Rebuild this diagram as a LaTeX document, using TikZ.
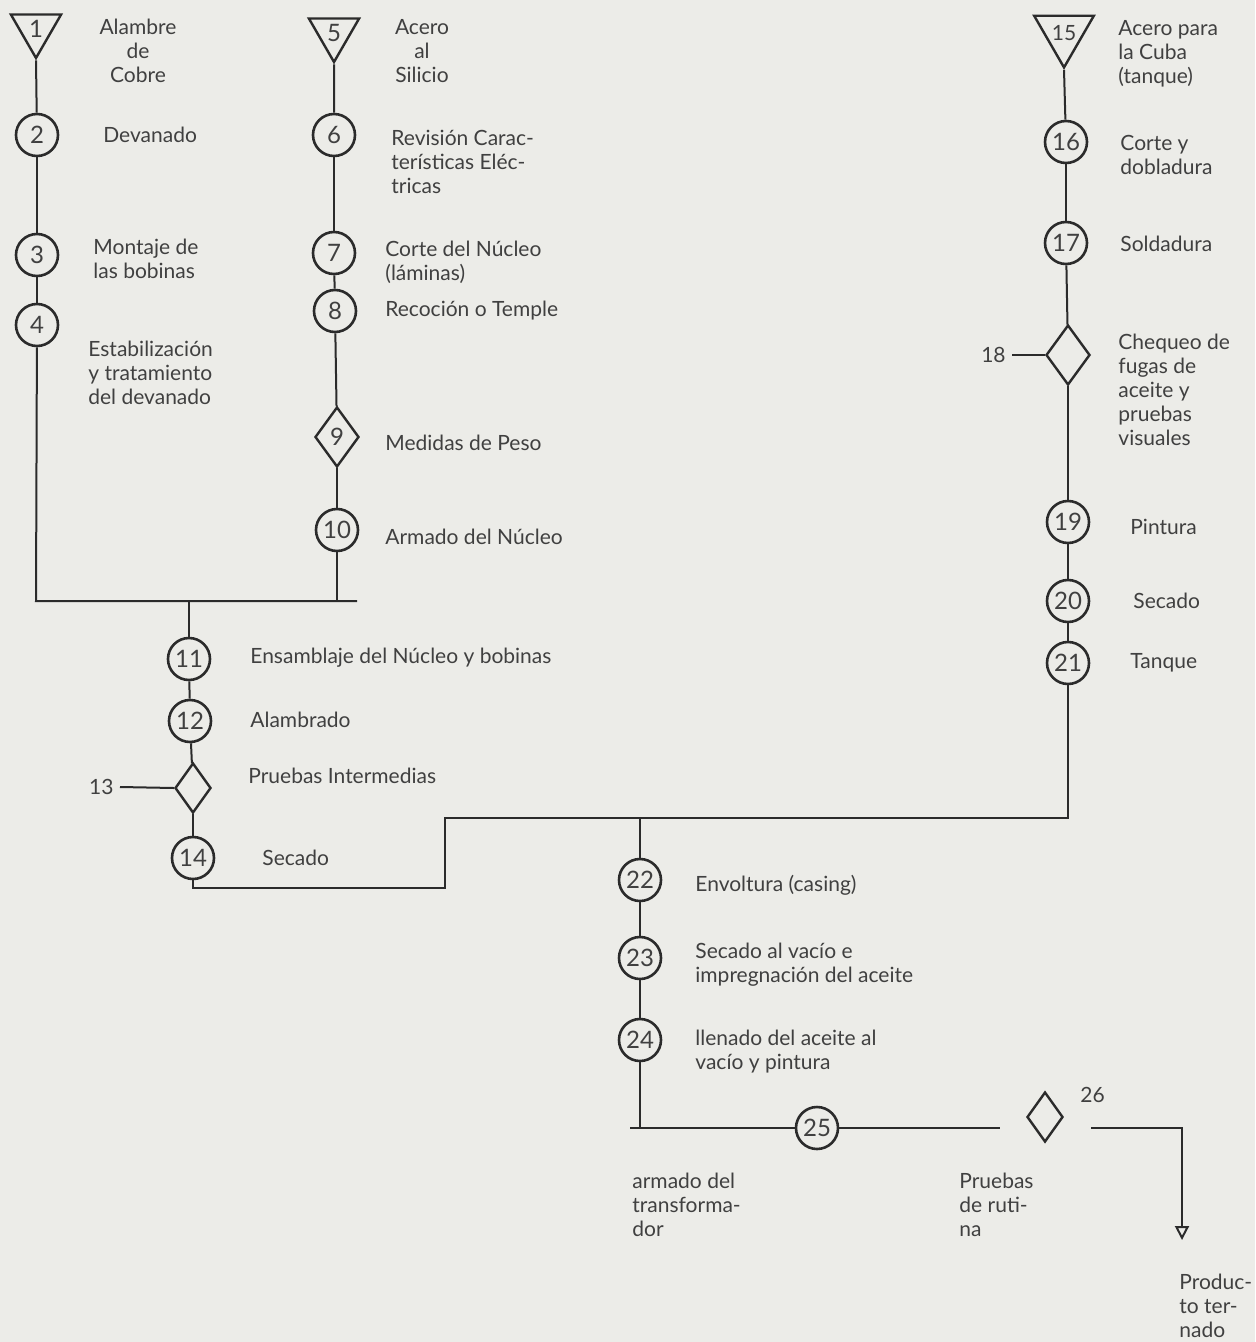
\documentclass[tikz,border=0pt]{standalone}
\usepackage{fontspec}
\setmainfont{Lato}
\usetikzlibrary{shapes.geometric,arrows.meta}
\definecolor{paper}{HTML}{ECECE8}
\definecolor{ink}{HTML}{2B2B2B}
\definecolor{txt}{HTML}{404040}
\newcommand\labf{\fontsize{10.5}{12}\selectfont}
\newcommand\numf{\fontsize{12}{12}\selectfont}
\begin{document}
\begin{tikzpicture}[x=0.5pt,y=-0.5pt,
  proc/.style={circle,draw=ink,line width=1.3pt,minimum size=21pt,inner sep=0pt,font=\numf,text=txt},
  insp/.style={diamond,draw=ink,line width=1.2pt,minimum width=22pt,minimum height=30pt,inner sep=0pt,font=\numf,text=txt},
  sinsp/.style={insp,minimum width=18pt,minimum height=25pt},
  stor/.style={regular polygon,regular polygon sides=3,shape border rotate=180,draw=ink,line width=1.2pt,minimum size=29pt,inner sep=0pt,font=\numf,text=txt},
  lbl/.style={anchor=west,align=left,font=\labf,text=txt,inner sep=0pt},
  flow/.style={draw=ink,line width=1pt}]
\fill[paper] (0,0) rectangle (1255,1342);
\useasboundingbox (0,0) rectangle (1255,1342);

% column A
\node[stor] (t1) at (36,29) {1};
\node[proc] (c2) at (37,135) {2};
\node[proc] (c3) at (37,255) {3};
\node[proc] (c4) at (37,325) {4};
% column B
\node[stor] (t5) at (334,33) {5};
\node[proc] (c6) at (334,135) {6};
\node[proc] (c7) at (334,253) {7};
\node[proc] (c8) at (335,311) {8};
\node[insp] (d9) at (337,437) {9};
\node[proc] (c10) at (337,530) {10};
% column C
\node[proc] (c11) at (189,659) {11};
\node[proc] (c12) at (190,721) {12};
\node[sinsp] (d13) at (193,788) {};
\node[proc] (c14) at (193,858) {14};
% column R
\node[stor,minimum size=25pt,font=\labf] (t15) at (1064,33) {15};
\node[proc] (c16) at (1066,142) {16};
\node[proc] (c17) at (1066,243) {17};
\node[insp] (d18) at (1068,355) {};
\node[proc] (c19) at (1068,522) {19};
\node[proc] (c20) at (1068,601) {20};
\node[proc] (c21) at (1068,663) {21};
% column D
\node[proc] (c22) at (640,880) {22};
\node[proc] (c23) at (640,958) {23};
\node[proc] (c24) at (640,1040) {24};
\node[proc] (c25) at (817,1128) {25};
\node[sinsp] (d26) at (1045,1117) {};

% side numbers
\node[lbl,anchor=east] (n13) at (114,787) {13};
\node[lbl,anchor=east] (n18) at (1006,355) {18};
\node[lbl] (n26) at (1080,1095) {26};

% labels
\node[lbl,anchor=center,align=center] (l1) at (138,51) {Alambre\\de\\Cobre};
\node[lbl] (l2) at (103,135) {Devanado};
\node[lbl] (l3) at (93,259) {Montaje de\\las bobinas};
\node[lbl] (l4) at (88,373) {Estabilización\\y tratamiento\\del devanado};
\node[lbl,anchor=center,align=center] (l5) at (422,51) {Acero\\al\\Silicio};
\node[lbl] (l6) at (391,162) {Revisión Carac-\\terísticas Eléc-\\tricas};
\node[lbl] (l7) at (385,262) {Corte del Núcleo\\(láminas)};
\node[lbl] (l8) at (385,311) {Recoción o Temple};
\node[lbl] (l9) at (385,443) {Medidas de Peso};
\node[lbl] (l10) at (385,537) {Armado del Núcleo};
\node[lbl] (l11) at (250,658) {Ensamblaje del Núcleo y bobinas};
\node[lbl] (l12) at (250,720) {Alambrado};
\node[lbl] (l13) at (248,776) {Pruebas Intermedias};
\node[lbl] (l14) at (262,858) {Secado};
\node[lbl] (l15) at (1118,54) {Acero para\\la Cuba\\(tanque)};
\node[lbl] (l16) at (1120,155) {Corte y\\dobladura};
\node[lbl] (l17) at (1120,244) {Soldadura};
\node[lbl] (l18) at (1118,390) {Chequeo de\\fugas de\\aceite y\\pruebas\\visuales};
\node[lbl] (l19) at (1130,527) {Pintura};
\node[lbl] (l20) at (1133,601) {Secado};
\node[lbl] (l21) at (1130,663) {Tanque};
\node[lbl] (l22) at (695,885) {Envoltura (casing)};
\node[lbl] (l23) at (695,965) {Secado al vacío e\\impregnación del aceite};
\node[lbl] (l24) at (695,1052) {llenado del aceite al\\vacío y pintura};
\node[lbl] (l25) at (632,1205) {armado del\\transforma-\\dor};
\node[lbl] (l26) at (959,1205) {Pruebas\\de ruti-\\na};
\node[lbl] (lpt) at (1179,1306) {Produc-\\to ter-\\nado};

% junction coordinates
\coordinate (bl) at (36,601);
\coordinate (br) at (357,601);
\coordinate (bm) at (189,601);
\coordinate (s1) at (445,888);
\coordinate (s2) at (445,818);
\coordinate (sm) at (640,818);
\coordinate (hl) at (630,1128);
\coordinate (hr) at (1000,1128);
\coordinate (h2) at (1091,1128);
\coordinate (pe) at (1182,1240);

% connectors
\draw[flow] (t1.south) -- (c2);
\draw[flow] (c2) -- (c3);
\draw[flow] (c3) -- (c4);
\draw[flow] (c4) -- (bl) -- (br);
\draw[flow] (t5.south) -- (c6);
\draw[flow] (c6) -- (c7);
\draw[flow] (c7) -- (c8);
\draw[flow] (c8) -- (d9);
\draw[flow] (d9) -- (c10);
\draw[flow] (c10) -- (c10 |- bl);
\draw[flow] (bm) -- (c11);
\draw[flow] (c11) -- (c12);
\draw[flow] (c12) -- (d13);
\draw[flow] (d13) -- (c14);
\draw[flow] ([xshift=3pt]n13.east) -- (d13.west);
\draw[flow] (c14.south) |- (s1) -- (s2) -- (c21 |- s2) -- (c21);
\draw[flow] (t15.south) -- (c16);
\draw[flow] (c16) -- (c17);
\draw[flow] (c17) -- (d18);
\draw[flow] (d18) -- (c19);
\draw[flow] (c19) -- (c20);
\draw[flow] (c20) -- (c21);
\draw[flow] ([xshift=3pt]n18.east) -- (d18.west);
\draw[flow] (sm) -- (c22);
\draw[flow] (c22) -- (c23);
\draw[flow] (c23) -- (c24);
\draw[flow] (c24) -- (c24 |- hl);
\draw[flow] (hl) -- (c25);
\draw[flow] (c25) -- (hr);
\draw[flow,-{Triangle[open,length=7pt,width=7pt]}] (h2) -| (pe);
\end{tikzpicture}
\end{document}
